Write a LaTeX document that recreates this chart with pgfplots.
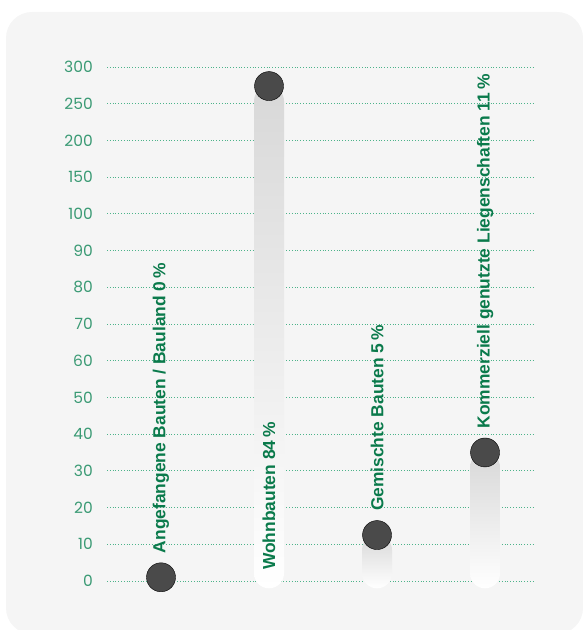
\documentclass[border=0pt]{standalone}
\usepackage{pgfplots}
\pgfplotsset{compat=1.18}
\usepackage{fontspec}
\setmainfont{Liberation Sans}
\newfontfamily\tickfont{Poppins}
\newfontfamily\labfont{Liberation Sans Bold}
\definecolor{bg}{HTML}{F5F5F5}
\definecolor{gridgreen}{HTML}{4DB38A}
\definecolor{tickgreen}{HTML}{3A9A74}
\definecolor{labgreen}{HTML}{0A7A4B}
\definecolor{dotgray}{HTML}{4A4A4A}
\definecolor{bartop}{HTML}{D8D8D8}
\begin{document}
\begin{tikzpicture}
\useasboundingbox (0,0) rectangle (582pt,630pt);
\fill[bg, rounded corners=26pt] (6pt,-4pt) rectangle (583pt,618pt);
\begin{axis}[
  at={(107pt,41.7pt)}, anchor=south west,
  scale only axis, width=426pt, height=536pt,
  xmin=-0.5, xmax=3.444,
  ymin=-2, ymax=320,
  y coord trafo/.code={\pgfmathparse{ifthenelse(#1<=100,#1/10+0.2,10.2+(#1-100)/50)}},
  y coord inv trafo/.code={\pgfmathparse{ifthenelse(#1<=10.2,(#1-0.2)*10,100+(#1-10.2)*50)}},
  ytick={0,10,20,30,40,50,60,70,80,90,100,150,200,250,300},
  yticklabels={0,10,20,30,40,50,60,70,80,90,100,150,200,250,300},
  xtick=\empty,
  axis line style={draw=none},
  major tick length=0pt,
  ymajorgrids,
  grid style={gridgreen, line width=0.8pt, dotted},
  yticklabel style={font=\tickfont\fontsize{15.5}{16}\selectfont, text=tickgreen, anchor=east, inner sep=0pt, xshift=-14pt},
  clip=false,
  barstyle/.style={ybar, bar width=30pt, bar shift=0pt, draw=none, rounded corners=15pt,
    top color=bartop, bottom color=white},
]
\addplot[barstyle] coordinates {(1,274)};
\addplot[barstyle] coordinates {(2,12.5)};
\addplot[barstyle] coordinates {(3,35)};
\addplot[only marks, mark=*, mark size=14.5pt, mark options={fill=dotgray, draw=none}]
  coordinates {(0,1) (1,274) (2,12.5) (3,35)};
\begin{scope}[every node/.style={rotate=90, anchor=west, inner sep=0pt, text=labgreen, font=\labfont\fontsize{17.4}{19}\selectfont}]
\node at ([yshift=24pt]axis cs:0,1) {Angefangene Bauten / Bauland 0\,\%};
\node at ([yshift=11pt]axis cs:1,0) {Wohnbauten 84\,\%};
\node at ([yshift=24pt]axis cs:2,12.5) {Gemischte Bauten 5\,\%};
\node at ([yshift=24pt]axis cs:3,35) {Kommerziell genutzte Liegenschaften 11\,\%};
\end{scope}
\end{axis}
\end{tikzpicture}
\end{document}
